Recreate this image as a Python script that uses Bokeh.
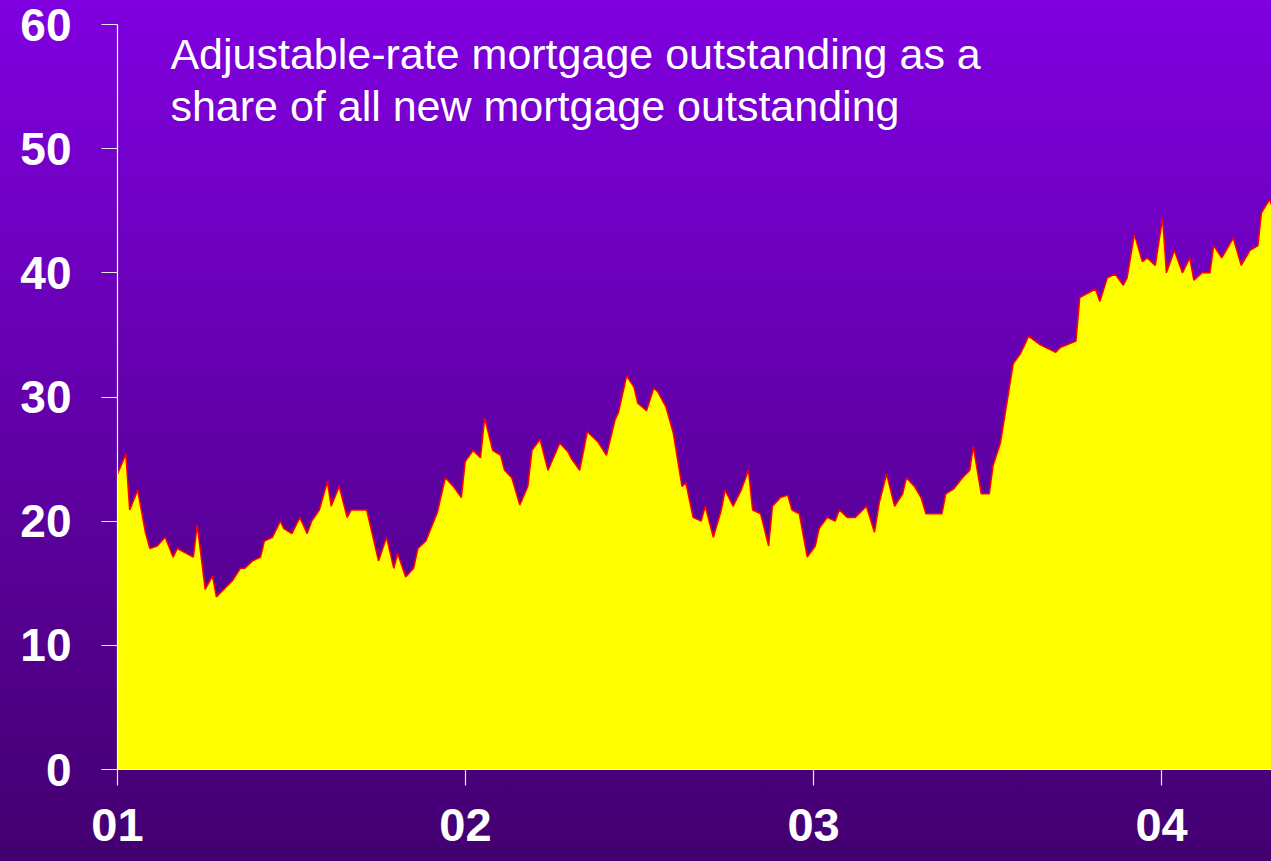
from bokeh.plotting import figure
from bokeh.models import FixedTicker, Label, InlineStyleSheet
from bokeh.embed import file_html
from bokeh.resources import INLINE

# Weekly-ish observations (fractional year) and ARM share (%)
years = [
    2001.000, 2001.024, 2001.035, 2001.058, 2001.080, 2001.093, 2001.114, 2001.137,
    2001.160, 2001.172, 2001.218, 2001.229, 2001.252, 2001.273, 2001.284, 2001.330,
    2001.353, 2001.365, 2001.388, 2001.411, 2001.422, 2001.445, 2001.468, 2001.478,
    2001.501, 2001.524, 2001.545, 2001.558, 2001.580, 2001.603, 2001.614, 2001.637,
    2001.660, 2001.672, 2001.716, 2001.750, 2001.773, 2001.794, 2001.805, 2001.828,
    2001.851, 2001.863, 2001.886, 2001.919, 2001.942, 2001.965, 2001.988, 2001.999,
    2002.022, 2002.043, 2002.055, 2002.078, 2002.101, 2002.112, 2002.133, 2002.156,
    2002.179, 2002.191, 2002.214, 2002.237, 2002.271, 2002.294, 2002.305, 2002.328,
    2002.350, 2002.380, 2002.405, 2002.430, 2002.440, 2002.463, 2002.484, 2002.495,
    2002.520, 2002.541, 2002.553, 2002.576, 2002.597, 2002.622, 2002.633, 2002.654,
    2002.677, 2002.689, 2002.712, 2002.735, 2002.746, 2002.769, 2002.792, 2002.813,
    2002.825, 2002.848, 2002.871, 2002.882, 2002.905, 2002.926, 2002.938, 2002.959,
    2002.982, 2003.005, 2003.016, 2003.039, 2003.062, 2003.074, 2003.097, 2003.120,
    2003.152, 2003.175, 2003.189, 2003.210, 2003.233, 2003.256, 2003.267, 2003.290,
    2003.309, 2003.323, 2003.369, 2003.380, 2003.403, 2003.428, 2003.449, 2003.459,
    2003.482, 2003.505, 2003.516, 2003.537, 2003.574, 2003.595, 2003.618, 2003.652,
    2003.696, 2003.710, 2003.754, 2003.765, 2003.810, 2003.823, 2003.844, 2003.867,
    2003.890, 2003.901, 2003.922, 2003.945, 2003.959, 2003.982, 2004.003, 2004.014,
    2004.037, 2004.060, 2004.081, 2004.093, 2004.116, 2004.139, 2004.150, 2004.173,
    2004.206, 2004.229, 2004.254, 2004.277, 2004.287, 2004.310, 2004.316,
]
share = [
    23.8, 25.4, 20.9, 22.5, 19.1, 17.8, 18.0, 18.7,
    17.1, 17.8, 17.1, 19.7, 14.5, 15.6, 13.9, 15.2,
    16.2, 16.2, 16.8, 17.1, 18.4, 18.7, 20.0, 19.4,
    19.0, 20.3, 19.0, 20.0, 20.9, 23.2, 21.2, 22.8,
    20.3, 20.9, 20.9, 16.8, 18.7, 16.2, 17.4, 15.5,
    16.2, 17.8, 18.4, 20.7, 23.5, 22.8, 21.9, 24.8,
    25.7, 25.1, 28.3, 25.7, 25.3, 24.1, 23.5, 21.3,
    22.8, 25.7, 26.6, 24.1, 26.3, 25.6, 25.0, 24.1,
    27.2, 26.4, 25.3, 28.2, 28.8, 31.7, 30.8, 29.5,
    28.9, 30.7, 30.4, 29.2, 27.1, 22.8, 23.1, 20.3,
    20.0, 21.2, 18.7, 20.9, 22.5, 21.2, 22.5, 24.1,
    20.9, 20.6, 18.0, 21.2, 21.9, 22.1, 20.9, 20.6,
    17.1, 18.0, 19.4, 20.3, 20.0, 20.9, 20.3, 20.3,
    21.2, 19.1, 21.5, 23.8, 21.2, 22.2, 23.5, 22.8,
    21.9, 20.6, 20.6, 22.2, 22.6, 23.5, 24.1, 26.0,
    22.2, 22.2, 24.5, 26.3, 32.7, 33.5, 34.9, 34.2,
    33.6, 34.0, 34.5, 38.0, 38.7, 37.7, 39.6, 39.9,
    39.0, 39.6, 43.1, 40.9, 41.2, 40.6, 44.4, 40.0,
    41.8, 40.0, 41.2, 39.4, 40.0, 40.0, 42.2, 41.2,
    42.8, 40.6, 41.8, 42.2, 44.8, 45.9, 45.5,
]
tick_years = [2001, 2002, 2003, 2004]
tick_labels = ["01", "02", "03", "04"]
y_ticks = [0, 10, 20, 30, 40, 50, 60]
title_lines = [
    "Adjustable-rate mortgage outstanding as a",
    "share of all new mortgage outstanding",
]

p = figure(
    width=1271, height=861,
    output_backend="svg", toolbar_location=None,
    x_range=(2001.0, 2004.316), y_range=(0, 60),
    min_border_left=117, min_border_right=0,
    min_border_top=24, min_border_bottom=92,
)
p.stylesheets = [InlineStyleSheet(css=""":host {
  position: absolute !important;
  left: 0px !important;
  top: 0px !important;
  background: linear-gradient(to bottom, #8000E0 0%, #430070 100%) !important;
}""")]
p.background_fill_alpha = 0
p.border_fill_alpha = 0
p.outline_line_color = None
p.xgrid.visible = False
p.ygrid.visible = False

p.varea(x=years, y1=0, y2=share, fill_color="#FFFF00")
p.line(x=years, y=share, line_color="#FF0000", line_width=1.5)

p.xaxis.ticker = FixedTicker(ticks=tick_years)
p.xaxis.major_label_overrides = {t: s for t, s in zip(tick_years, tick_labels)}
p.yaxis.ticker = FixedTicker(ticks=y_ticks)

for ax in (p.xaxis[0], p.yaxis[0]):
    ax.axis_line_color = "white"
    ax.axis_line_width = 1.2
    ax.major_tick_line_color = "#E8E8E8"
    ax.major_tick_line_width = 1.2
    ax.major_tick_out = 16
    ax.major_tick_in = 0
    ax.minor_tick_line_color = None
    ax.major_label_text_color = "white"
    ax.major_label_text_font = "Liberation Sans"
    ax.major_label_text_font_style = "bold"

p.xaxis.major_label_text_font_size = "47px"
p.xaxis.major_label_standoff = 23
p.yaxis.major_label_text_font_size = "46px"
p.yaxis.major_label_standoff = 30

for txt, yv in zip(title_lines, [57.6, 53.4]):
    p.add_layout(Label(
        x=2001.152, y=yv, text=txt,
        text_color="white", text_font="Liberation Sans",
        text_font_size="43px", text_baseline="alphabetic", text_align="left",
    ))

open("out.html", "w").write(file_html(p, INLINE))
